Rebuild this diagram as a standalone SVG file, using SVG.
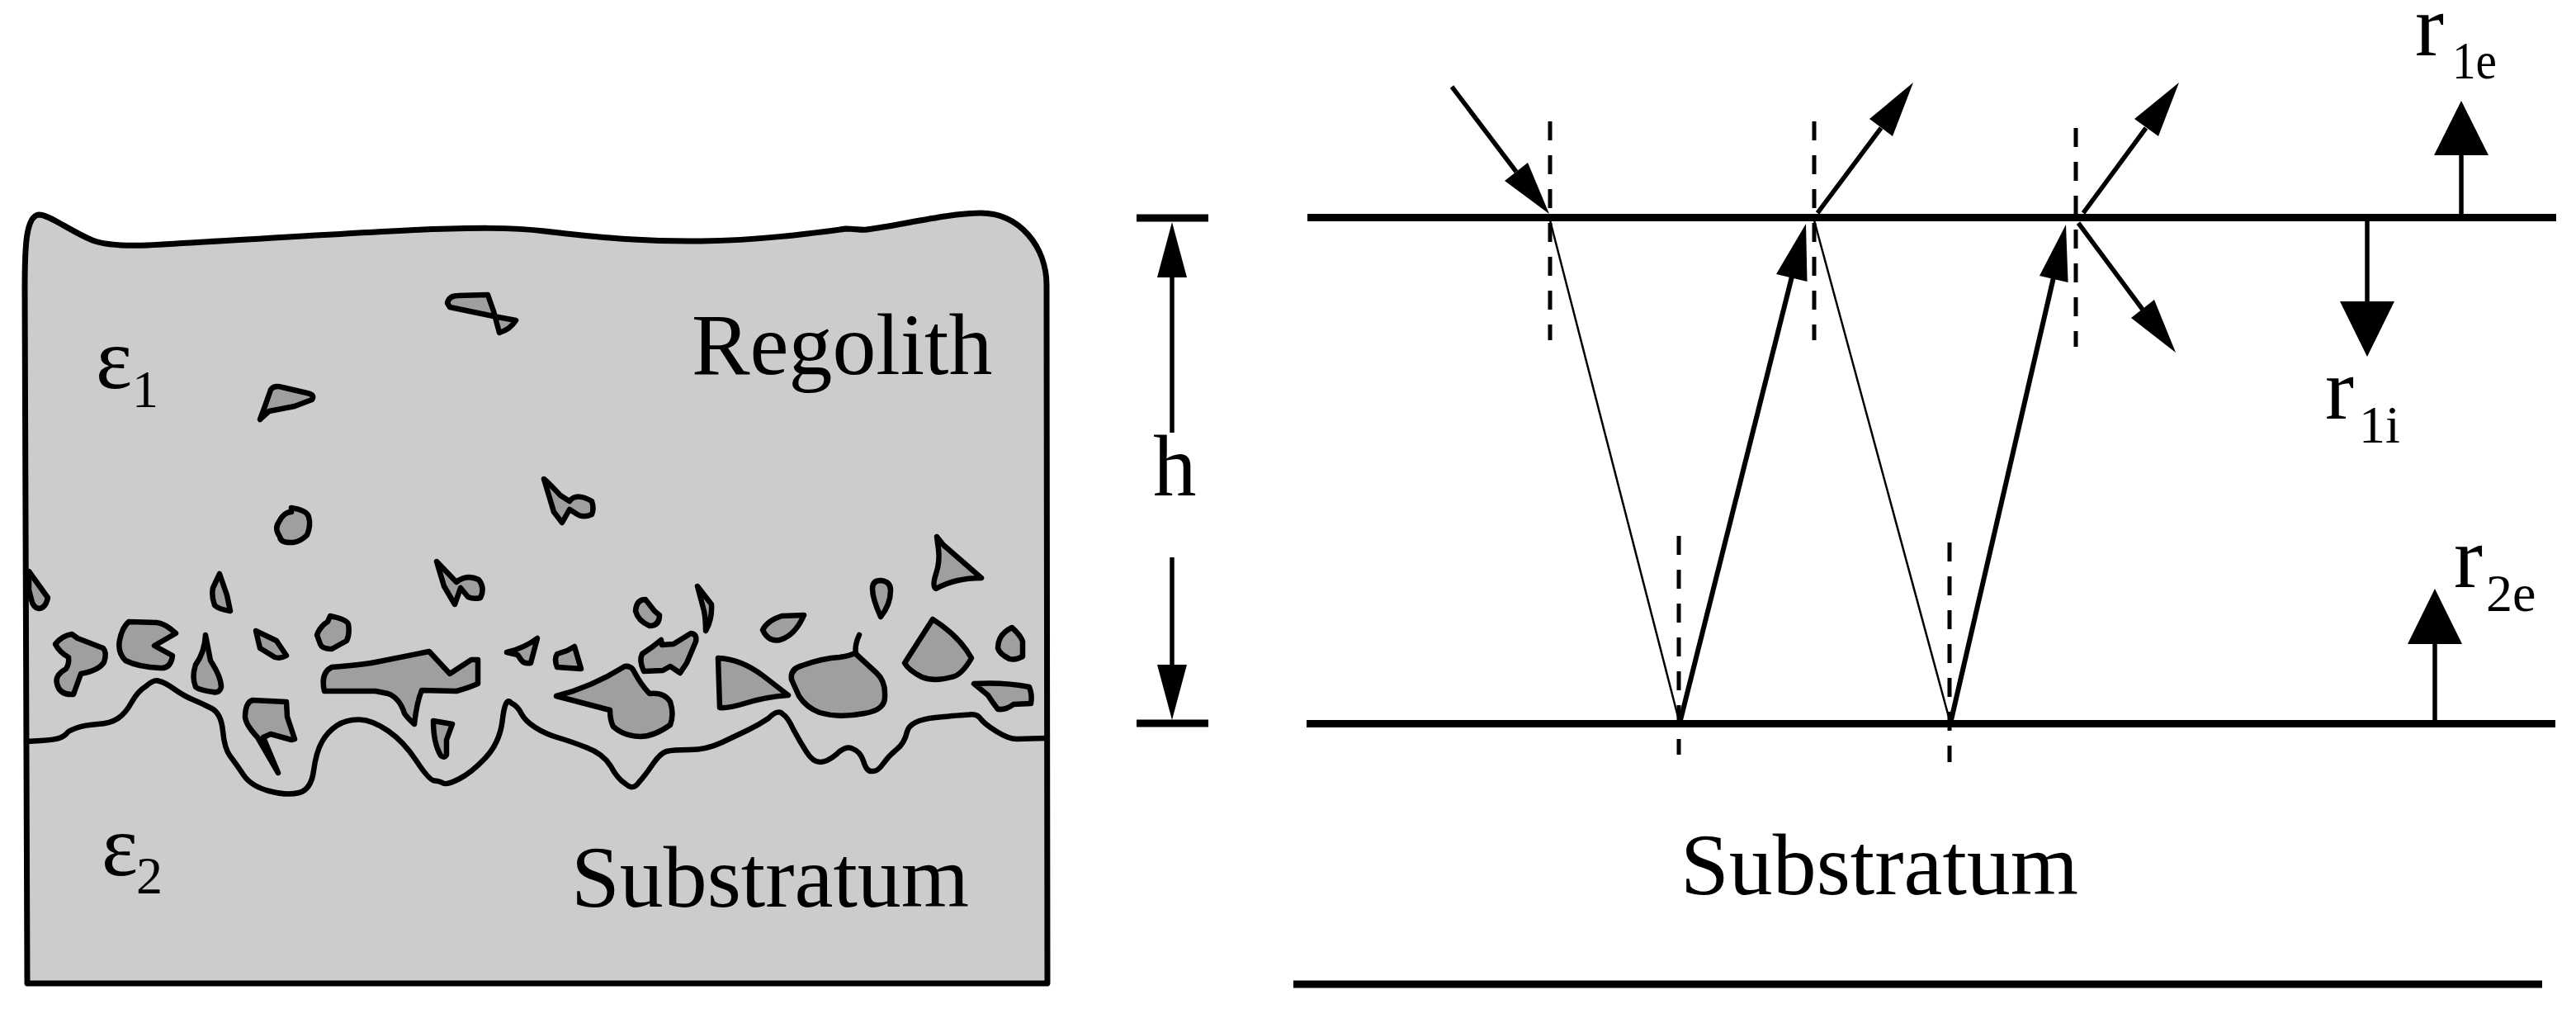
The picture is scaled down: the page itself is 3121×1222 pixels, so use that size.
<svg xmlns="http://www.w3.org/2000/svg" width="3121" height="1222" viewBox="0 0 3121 1222">
<style>
text{font-family:"Liberation Serif","Times New Roman",serif;font-size:105px;fill:#000}
.big{font-size:105.8px}
.sub{font-size:64px}
.body{fill:#ccc;stroke:#000;stroke-width:7;stroke-linejoin:round}
.iface{fill:none;stroke:#000;stroke-width:6.5;stroke-linejoin:round;stroke-linecap:round}
.rock{fill:#9f9f9f;stroke:#000;stroke-width:6.5;stroke-linejoin:round;stroke-linecap:round}
.bar{stroke:#000;stroke-width:9;fill:none}
.ray{stroke:#000;stroke-width:5.5;fill:none}
.thin{stroke:#000;stroke-width:2.5;fill:none}
.thick{stroke:#000;stroke-width:6;fill:none}
.dash{stroke:#000;stroke-width:5;fill:none;stroke-dasharray:23 18}
.head{fill:#000;stroke:none}
</style>
<rect width="3121" height="1222" fill="#fff"/>
<g id="regolith-panel">
<path id="body" class="body" d="M33 1191 L30 350 C30 300 31 262 47 260 C60 260 85 280 112 291 C125 296 150 298 179 297 C270 292 420 282 513 278 C570 276 620 275 660 280 C720 287 780 293 850 292 C920 291 980 283 1025 277 C1035 277 1045 279 1050 278 C1090 273 1150 258 1188 258 C1236 258 1268 300 1268 345 L1269 1191 Z"/>
<path id="interface" class="iface" d="M32 898 L49.5 897 Q67 896 73 893.5 Q79 891 81 888 Q83 885 93 881.5 Q103 878 118.5 877 Q134 876 143 870 Q152 864 159.5 850.5 Q167 837 177 831 Q187 822 193 825 Q199 826 211 834.5 Q223 843 234 847.5 Q245 852 256.5 858 Q268 864 270 885.5 Q272 907 279 916 Q286 925 295 938.5 Q304 952 326 958 Q348 964 362.5 960 Q377 956 380 933.5 Q383 911 390 898.5 Q397 886 408.5 878.5 Q420 871 435.5 871.5 Q451 872 470 885 Q489 898 504.5 921.5 Q520 945 526.5 945.5 Q533 946 537 948.5 Q541 951 556 943.5 Q571 936 588 918 Q605 900 608.5 874 Q612 842 619.5 851.5 Q627 855 631.5 864 Q636 873 648.5 881 Q661 889 676.5 893.5 Q692 898 711 905.5 Q731 913 740 928 Q748 943 757.5 949 Q767 958 774 947.5 Q781 940 790.5 926 Q800 912 807.5 910 Q815 908 835.5 908 Q856 908 875 899 Q894 890 906.5 884 Q919 878 931 870 Q943 858 948.5 865 Q954 868 961 883 Q969 898 977 910.5 Q985 923 993.5 923 Q1002 923 1013.5 913.5 Q1025 902 1033.5 907 Q1042 910 1046 921.5 Q1050 935 1056.5 934 Q1063 935 1070 925 Q1077 915 1086.5 907.5 Q1096 900 1099 886 Q1103 872 1133.5 869 Q1164 866 1174 865.5 Q1184 864 1188.5 871 Q1193 877 1207.5 886 Q1222 895 1232 895 L1267 894"/>
<g id="rocks">
<path class="rock" d="M542 367 Q544 358 555 358 L591 357 L598 377 L605 403 Q618 399 625 388 L598 383 L545 372 Z"/>
<path class="rock" d="M328 472 Q332 466 342 469 L372 476 Q382 478 378 484 L357 492 L326 498 L315 508 L321 492 Z"/>
<path class="rock" d="M353 615 Q372 618 374 626 Q377 636 372 648 Q364 656 355 657 Q340 658 339 650 Q332 640 338 632 Q344 620 353 620 Z"/>
<path class="rock" d="M659 580 Q664 584 679 600 L690 607 Q698 596 717 607 Q720 616 717 623 Q706 628 698 622 L690 617 L681 633 L671 620 Z"/>
<path class="rock" d="M35 692 L58 724 Q55 737 47 737 Q40 736 38 726 L35 714 Z"/>
<path class="rock" d="M87 768 Q75 770 67 780 Q72 790 83 796 Q84 804 80 810 Q66 818 69 828 Q72 842 89 841 L98 816 Q120 812 126 802 Q130 790 125 785 L94 773 Z"/>
<path class="rock" d="M156 753 L190 754 Q200 755 213 767 L187 782 L209 794 Q207 810 194 809 Q168 808 152 800 Q142 790 145 775 Q148 760 156 753 Z"/>
<path class="rock" d="M266 695 L275 721 L279 740 Q265 738 260 733 Q256 722 258 712 Z"/>
<path class="rock" d="M249 769 L255 800 Q268 820 268 832 Q266 840 258 838 Q242 836 237 832 Q232 820 237 805 Q248 790 249 769 Z"/>
<path class="rock" d="M310 764 L335 776 L347 794 Q340 798 333 796 L315 785 Z"/>
<path class="rock" d="M400 746 Q420 750 422 756 Q424 768 420 776 L402 786 Q390 786 388 780 L384 769 Q388 758 397 753 Z"/>
<path class="rock" d="M402 808 Q440 805 455 802 Q490 795 520 789 L545 816 L571 799 L579 799 L579 828 Q565 834 553 837 L511 836 Q505 850 502 877 Q494 870 490 864 Q484 845 470 840 L455 837 L393 837 Q388 815 402 808 Z"/>
<path class="rock" d="M306 848 L347 850 L348 868 L357 895 L353 896 L328 889 L319 893 L337 936 L312 893 Q296 876 297 866 Q298 850 306 848 Z"/>
<path class="rock" d="M525 873 L548 877 L541 896 L541 914 Q538 919 534 915 Q525 900 525 873 Z"/>
<path class="rock" d="M529 680 L553 705 Q565 695 580 702 Q588 712 582 724 Q574 726 567 723 L558 712 L551 732 L538 710 Z"/>
<path class="rock" d="M614 790 Q635 785 651 773 L643 803 Q635 804 632 800 L627 793 Z"/>
<path class="rock" d="M696 783 L704 810 L675 808 Q671 798 675 792 L687 788 M687 788 L696 783"/>
<g id="rocks-right" transform="translate(-3 0)">
<path class="rock" d="M1138 650 L1146 660 L1192 700 Q1160 700 1137 713 Q1132 710 1137 695 Q1142 680 1140 665 Z"/>
<path class="rock" d="M677 843 Q720 832 760 807 Q768 806 771 813 Q780 830 790 840 Q808 838 815 850 Q820 865 815 878 Q795 892 779 892 Q760 892 746 880 Q742 872 742 860 Z"/>
<path class="rock" d="M804 775 L805 781 L819 780 L840 767 Q848 768 846 777 L835 803 L827 815 L815 807 L806 812 L783 813 Q777 800 781 792 L794 783 Z"/>
<path class="rock" d="M785 726 L796 740 L802 745 Q802 758 790 758 Q776 752 773 740 Q774 726 785 726 Z"/>
<path class="rock" d="M848 710 L865 732 Q866 750 858 764 Q858 750 856 740 Z"/>
<path class="rock" d="M977 745 L950 746 Q932 752 927 763 Q934 778 948 775 Q966 770 977 745 Z"/>
<path class="rock" d="M1070 703 Q1082 704 1082 715 Q1082 732 1070 747 Q1060 725 1060 713 Q1060 703 1070 703 Z"/>
<path class="rock" d="M873 797 Q900 798 927 818 L958 842 Q930 844 905 852 Q885 858 875 857 Z"/>
<path class="rock" d="M1040 792 L1065 815 Q1076 825 1075 843 Q1076 860 1050 864 Q1020 870 996 863 Q980 857 971 843 L962 823 Q960 810 975 806 Q1000 797 1020 796 Q1035 794 1040 790 Z M1044 769 Q1038 782 1040 792"/>
<path class="rock" d="M1133 750 Q1165 770 1180 797 Q1168 818 1156 820 Q1135 826 1120 820 Q1104 812 1099 803 Z"/>
<path class="rock" d="M1229 760 Q1240 770 1242 777 L1242 795 Q1232 800 1226 798 Q1214 792 1212 785 Q1212 768 1229 760 Z"/>
<path class="rock" d="M1183 828 Q1220 826 1250 832 Q1254 842 1252 852 L1231 853 Q1222 860 1212 859 Q1205 850 1200 842 Z"/>
</g>
</g>
<text id="label-regolith" class="big" x="838" y="453">Regolith</text>
<text id="label-substratum-left" class="big" x="692" y="1098">Substratum</text>
<text id="label-e1"><tspan x="116" y="470">ε</tspan><tspan class="sub" x="160" y="493">1</tspan></text>
<text id="label-e2"><tspan x="123" y="1060">ε</tspan><tspan class="sub" x="165" y="1082">2</tspan></text>
</g>
<g id="connectors">
<path class="bar" d="M1377 264H1464M1377 876H1464"/>
<path class="bar" d="M1584 263.5H3097M1583 876.5H3096M1567 1192H3080"/>
<path class="ray" d="M1420 300V524M1420 675V815"/>
<polygon class="head" points="1420,269 1402,336 1438,336"/>
<polygon class="head" points="1420,872 1402,805 1438,805"/>
<path class="dash" d="M1878 147V412M2198 147V412"/>
<path class="dash" d="M2515 155V420"/>
<path class="dash" d="M2034 649V914"/>
<path class="dash" d="M2362 657V923"/>
<path class="ray" d="M1759 105L1837 208"/>
<polygon class="head" points="1877,259 1823,219 1851,197"/>
<path class="thin" d="M1878 267L2034 872"/>
<path class="thin" d="M2198 267L2362 872"/>
<path class="thick" d="M2036 872L2171 335"/>
<polygon class="head" points="2188,271 2152,332 2189.5,341"/>
<path class="thick" d="M2364 872L2488 336"/>
<polygon class="head" points="2503,272 2471,334 2505.6,342"/>
<path class="ray" d="M2202 258L2279 155"/>
<polygon class="head" points="2318,100 2265,144 2293,165"/>
<path class="ray" d="M2524 258L2600 155"/>
<polygon class="head" points="2640,100 2586,144 2615,165"/>
<path class="ray" d="M2518 270L2596 375"/>
<polygon class="head" points="2636,427 2582,385 2610,363"/>
<path class="ray" d="M2982 259V185"/>
<polygon class="head" points="2982,122 2949,188 3015,188"/>
<path class="ray" d="M2868 267V370"/>
<polygon class="head" points="2868,432 2835,365 2901,365"/>
<path class="ray" d="M2950 872V775"/>
<polygon class="head" points="2950,713 2917,780 2983,780"/>
</g>
<text id="label-h" x="1397" y="600">h</text>
<text id="label-substratum-right" class="big" x="2036" y="1083">Substratum</text>
<text id="label-r1e"><tspan x="2926" y="67">r</tspan><tspan class="sub" x="2971" y="95" textLength="54" lengthAdjust="spacingAndGlyphs">1e</tspan></text>
<text id="label-r1i"><tspan x="2817" y="507">r</tspan><tspan class="sub" x="2858" y="536">1i</tspan></text>
<text id="label-r2e"><tspan x="2973" y="711">r</tspan><tspan class="sub" x="3012" y="740">2e</tspan></text>
</svg>
